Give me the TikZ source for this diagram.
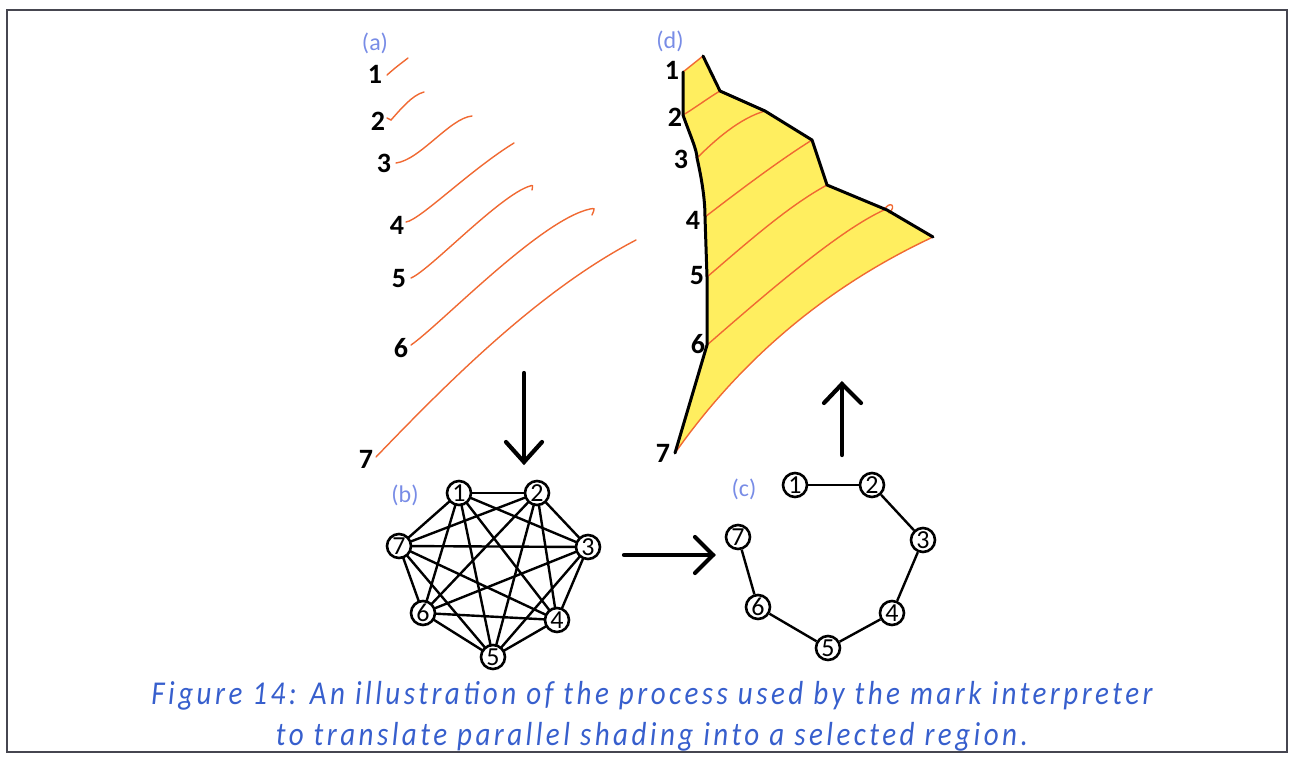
\documentclass[tikz,border=0pt]{standalone}
\usepackage{fontspec}
\setmainfont{Carlito}
\newfontfamily\capfont[LetterSpace=12]{Carlito}
\definecolor{shadeor}{RGB}{240,105,50}
\definecolor{regyel}{RGB}{255,238,95}
\definecolor{lblblue}{RGB}{120,140,230}
\definecolor{capblue}{RGB}{55,95,205}
\definecolor{frame}{RGB}{70,70,80}
\tikzset{
  stroke/.style={shadeor, line width=1.4pt, line cap=round},
  bound/.style={black, line width=3pt, line join=round, line cap=round},
  num/.style={font=\fontsize{28}{30}\selectfont\bfseries, inner sep=0pt},
  panel/.style={font=\fontsize{24}{26}\selectfont, text=lblblue, inner sep=0pt},
  gnode/.style={circle, draw, line width=2.6pt, minimum size=24pt, inner sep=0pt, fill=white, font=\fontsize{26}{26}\selectfont},
  gedge/.style={line width=2.4pt},
  bigarrow/.style={line width=4.2pt, line cap=round, line join=miter},
}
\begin{document}
\begin{tikzpicture}[x=1pt, y=-1pt]
\useasboundingbox (0,0) rectangle (1292,756);
\draw[frame, line width=2pt] (7,10) rectangle (1287,752);

% ---------- (a) ----------
\node[panel] (la) at (375,43) {(a)};
\node[num] (a1) at (375,74) {1};
\node[num] (a2) at (378,121) {2};
\node[num] (a3) at (384,163) {3};
\node[num] (a4) at (397,225) {4};
\node[num] (a5) at (399,279) {5};
\node[num] (a6) at (401,348) {6};
\node[num] (a7) at (366,459) {7};
\draw[stroke] (387,75) .. controls (395,68) .. (408,58);
\draw[stroke] (387,118) -- (391,120) .. controls (400,110) and (412,95) .. (424,92);
\draw[stroke] (396,163) .. controls (420,160) and (450,118) .. (472,116);
\draw[stroke] (406,222) .. controls (420,220) and (470,170) .. (514,143);
\draw[stroke] (411,278) .. controls (430,270) and (500,195) .. (530,186) .. controls (533,185) .. (532,190);
\draw[stroke] (411,345) .. controls (440,325) and (540,220) .. (590,209) .. controls (595,208) .. (592,215);
\draw[stroke] (376,457) .. controls (450,380) and (540,290) .. (636,240);

% down arrow
\coordinate (dnA) at (524,373);
\coordinate (dnB) at (524,462);
\draw[bigarrow] (dnA) -- (dnB);
\draw[bigarrow] ([xshift=-18pt,yshift=20pt]dnB) -- (dnB) -- ([xshift=18pt,yshift=20pt]dnB);

% ---------- (d) ----------
\node[panel] (ld) at (670,41) {(d)};
\fill[regyel] (683,72) -- (683,115) .. controls (690,135) and (697,150) .. (697,158)
  .. controls (702,180) and (705,200) .. (705,217) -- (707,277) -- (707,345) -- (675,453)
  .. controls (742,358) and (828,286) .. (933,237) -- (887,210) -- (827,185) -- (812,140)
  -- (765,111) -- (720,91) -- (703,56) -- cycle;
\draw[stroke] (683,72) -- (703,56);
\draw[stroke] (683,115) .. controls (695,108) and (708,98) .. (720,91);
\draw[stroke] (697,158) .. controls (715,140) and (740,118) .. (765,111);
\draw[stroke] (705,217) .. controls (740,190) and (780,160) .. (812,140);
\draw[stroke] (707,277) .. controls (750,240) and (790,205) .. (827,185);
\draw[stroke] (707,345) .. controls (770,290) and (840,230) .. (884,210) .. controls (890,200) and (897,206) .. (889,213);
\draw[stroke] (675,453) .. controls (742,358) and (828,286) .. (933,237);
\draw[bound] (683,72) -- (683,115) .. controls (690,135) and (697,150) .. (697,158)
  .. controls (702,180) and (705,200) .. (705,217) -- (707,277) -- (707,345) -- (675,453);
\draw[bound] (703,56) -- (720,91) -- (765,111) -- (812,140) -- (827,185) -- (887,210) -- (933,237);
\node[num] (d1) at (672,70) {1};
\node[num] (d2) at (675,117) {2};
\node[num] (d3) at (681,159) {3};
\node[num] (d4) at (693,220) {4};
\node[num] (d5) at (697,276) {5};
\node[num] (d6) at (698,344) {6};
\node[num] (d7) at (663,453) {7};

% up arrow
\coordinate (upA) at (842,455);
\coordinate (upB) at (842,384);
\draw[bigarrow] (upA) -- (upB);
\draw[bigarrow] ([xshift=-18pt,yshift=-19pt]upB) -- (upB) -- ([xshift=19pt,yshift=-19pt]upB);

% right arrow
\coordinate (rtA) at (624,555);
\coordinate (rtB) at (713,555);
\draw[bigarrow] (rtA) -- (rtB);
\draw[bigarrow] ([xshift=-18pt,yshift=-18pt]rtB) -- (rtB) -- ([xshift=-18pt,yshift=18pt]rtB);

% ---------- (b) ----------
\node[panel] (lb) at (405,495) {(b)};
\coordinate (pb1) at (459,493);
\coordinate (pb2) at (537,493);
\coordinate (pb3) at (588,547);
\coordinate (pb4) at (557,620);
\coordinate (pb5) at (493,657);
\coordinate (pb6) at (423,613);
\coordinate (pb7) at (399,546);
\foreach \i/\j in {1/2,1/3,1/4,1/5,1/6,1/7,2/3,2/4,2/5,2/6,2/7,3/4,3/5,3/6,3/7,4/5,4/6,4/7,5/6,5/7,6/7}
  \draw[gedge] (pb\i) -- (pb\j);
\foreach \k in {1,...,7}
  \node[gnode] (b\k) at (pb\k) {\k};

% ---------- (c) ----------
\node[panel] (lc) at (744,489) {(c)};
\node[gnode] (c1) at (795,485) {1};
\node[gnode] (c2) at (872,485) {2};
\node[gnode] (c3) at (923,540) {3};
\node[gnode] (c4) at (892,613) {4};
\node[gnode] (c5) at (828,648) {5};
\node[gnode] (c6) at (758,607) {6};
\node[gnode] (c7) at (738,537) {7};
\draw[gedge] (c1) -- (c2);
\draw[gedge] (c2) -- (c3);
\draw[gedge] (c3) -- (c4);
\draw[gedge] (c4) -- (c5);
\draw[gedge] (c5) -- (c6);
\draw[gedge] (c6) -- (c7);

% ---------- caption ----------
\node[text=capblue, inner sep=0pt] (cap) at (652,717)
  {\scalebox{1}[1.15]{\capfont\itshape\fontsize{29}{36}\selectfont
   \begin{tabular}{@{}c@{}}Figure 14: An illustration of the process used by the mark interpreter\\to translate parallel shading into a selected region.\end{tabular}}};
\end{tikzpicture}
\end{document}
